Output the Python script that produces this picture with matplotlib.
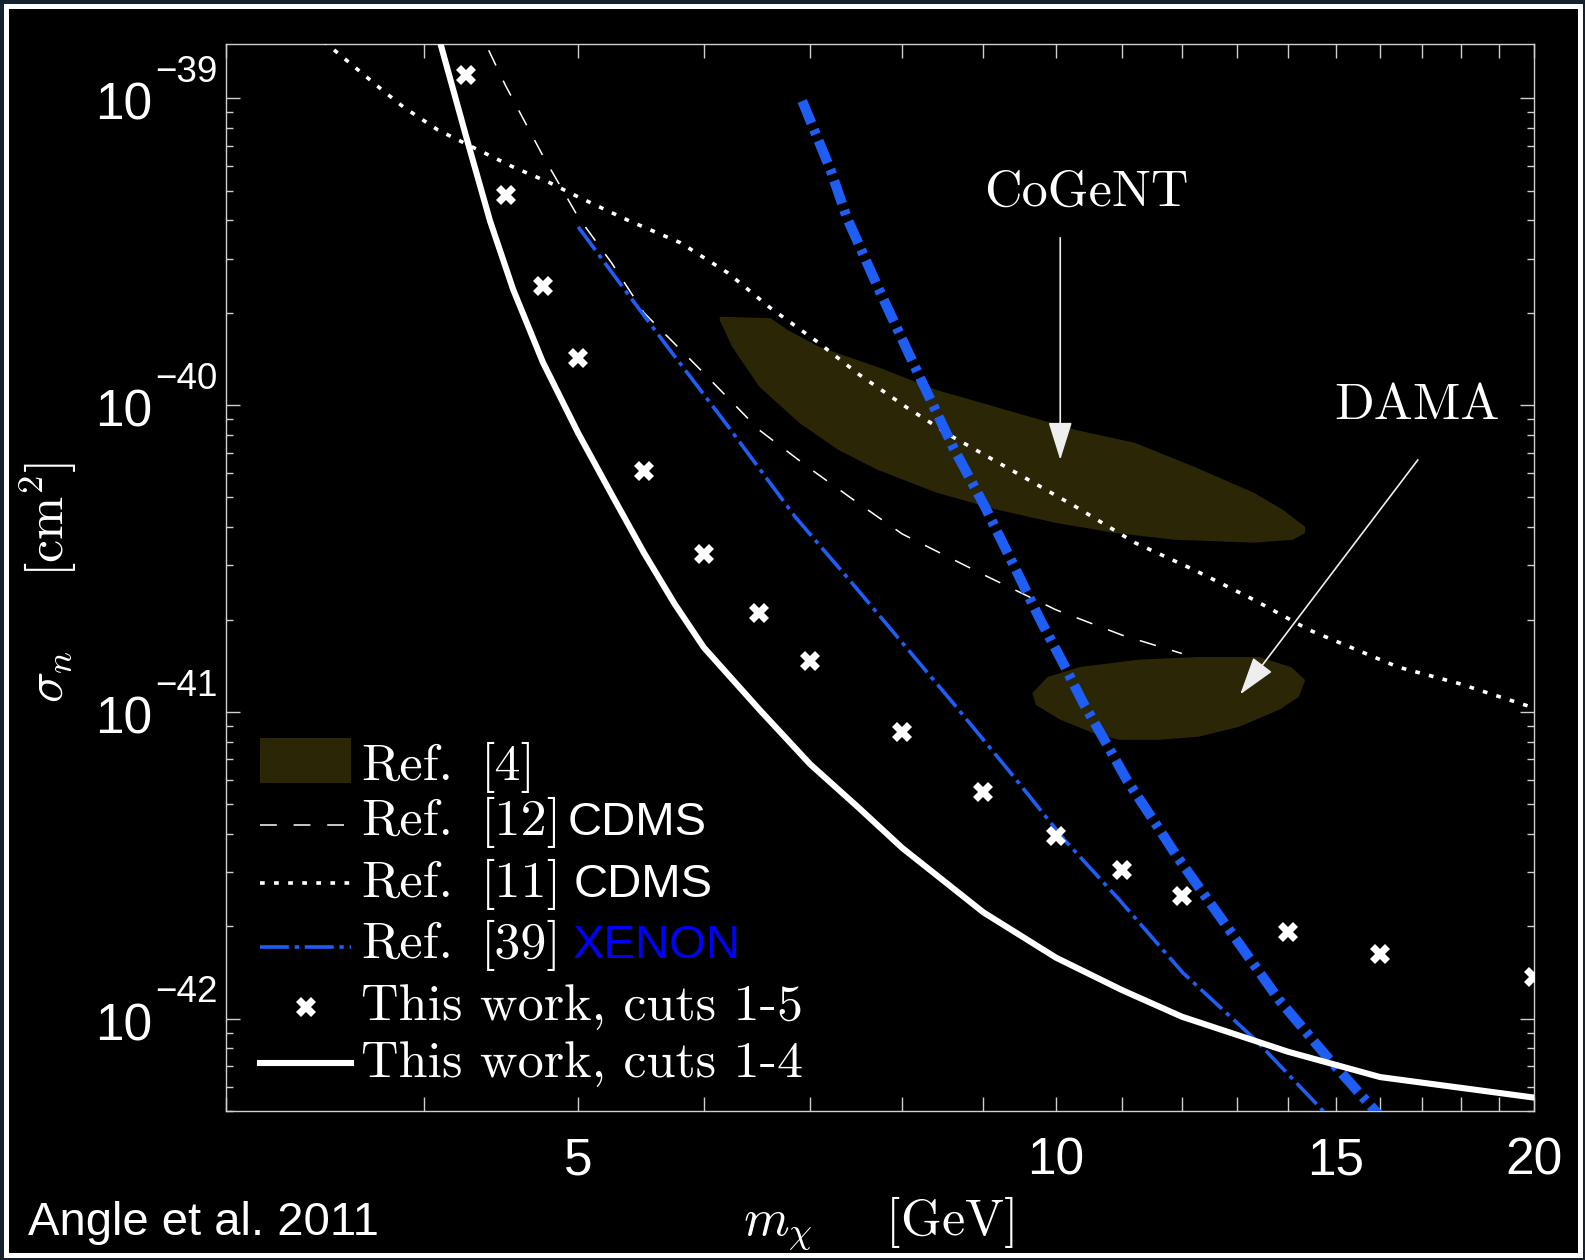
import matplotlib
matplotlib.use('Agg')
import matplotlib.pyplot as plt
import matplotlib.patches as mpatches
from matplotlib.lines import Line2D
from matplotlib.ticker import FixedLocator, FixedFormatter, NullFormatter
import numpy as np

plt.rcParams['font.family'] = 'Liberation Sans'

# This work, cuts 1-5 (crosses)
cuts15_mass = [4.25, 4.5, 4.75, 5, 5.5, 6, 6.5, 7, 8, 9, 10, 11, 12, 14, 16, 20]
cuts15_sigma = [1.19e-39, 4.85e-40, 2.45e-40, 1.42e-40, 6.1e-41, 3.26e-41, 2.1e-41, 1.47e-41,
                8.6e-42, 5.46e-42, 3.94e-42, 3.06e-42, 2.51e-42, 1.92e-42, 1.62e-42, 1.37e-42]

# This work, cuts 1-4 (solid)
cuts14_mass = [4.0, 4.1, 4.25, 4.4, 4.55, 4.75, 5.0, 5.25, 5.5, 5.75, 6.0, 6.5, 7.0, 7.5, 8.0, 9.0,
               10, 11, 12, 14, 16, 20]
cuts14_sigma = [2.3e-39, 1.47e-39, 7.5e-40, 3.98e-40, 2.38e-40, 1.38e-40, 8.1e-41, 5.1e-41, 3.3e-41,
                2.25e-41, 1.62e-41, 1.02e-41, 6.75e-42, 4.9e-42, 3.6e-42, 2.22e-42, 1.58e-42, 1.24e-42,
                1.015e-42, 7.8e-43, 6.45e-43, 5.53e-43]

# Ref. [12] CDMS (dashed)
cdms12_mass = [4.3, 4.5, 4.75, 5.0, 5.25, 5.5, 6.0, 6.5, 7.0, 7.5, 8.0, 9.0, 10.0, 11.0, 12.0]
cdms12_sigma = [1.8e-39, 1.1e-39, 6.5e-40, 4.1e-40, 2.9e-40, 2.0e-40, 1.27e-40, 8.3e-41, 6.2e-41,
                4.8e-41, 3.8e-41, 2.8e-41, 2.15e-41, 1.78e-41, 1.55e-41]

# Ref. [11] CDMS (dotted)
cdms11_mass = [3.3, 3.48, 3.75, 3.88, 4.08, 4.3, 4.55, 4.8, 5.0, 5.37, 5.8, 6.21, 6.61, 7.07, 7.52,
               8.06, 8.61, 9.44, 10.29, 11.21, 12.22, 13.32, 14.43, 16.42, 17.91, 20]
cdms11_sigma = [1.9e-39, 1.49e-39, 1.08e-39, 9.37e-40, 7.88e-40, 6.89e-40, 5.97e-40, 5.3e-40, 4.77e-40,
                4.01e-40, 3.38e-40, 2.7e-40, 2.07e-40, 1.61e-40, 1.254e-40, 9.79e-41, 7.87e-41, 6.01e-41,
                4.66e-41, 3.56e-41, 2.9e-41, 2.32e-41, 1.85e-41, 1.4e-41, 1.24e-41, 1.03e-41]

# Ref. [39] XENON (thin dash-dot)
xenon_mass = [5.0, 5.31, 5.69, 6.17, 6.85, 7.41, 8.0, 8.65, 9.38, 10.12, 10.96, 12.02, 13.35, 14.64, 15.2]
xenon_sigma = [3.81e-40, 2.5e-40, 1.55e-40, 8.95e-41, 4.32e-41, 2.69e-41, 1.68e-41, 1.04e-41, 6.25e-42,
               3.83e-42, 2.44e-42, 1.41e-42, 8.54e-43, 5.17e-43, 4.2e-43]

# XENON (thick dash-dot)
xenon2_mass = [6.92, 7.21, 7.38, 7.72, 8.22, 8.61, 9.02, 9.45, 9.77, 10.1, 10.4, 10.74, 11.08, 11.51,
               11.92, 12.89, 13.82, 14.81, 15.86, 16.3]
xenon2_sigma = [9.8e-40, 5.84e-40, 4.1e-40, 2.43e-40, 1.21e-40, 7.31e-41, 4.66e-41, 2.85e-41, 2.0e-41,
                1.445e-41, 1.07e-41, 8.0e-42, 6.0e-42, 4.45e-42, 3.37e-42, 1.91e-42, 1.15e-42, 7.52e-43,
                5.05e-43, 4.3e-43]

# CoGeNT region outline
cogent_mass = [6.14, 6.61, 6.77, 7.09, 7.72, 8.41, 9.44, 10.29, 11.21, 12.22, 13.32, 13.9, 14.35, 14.35,
               14.1, 13.32, 11.87, 10.89, 10.0, 9.18, 8.41, 7.72, 7.29, 6.89, 6.5, 6.25, 6.14]
cogent_sigma = [1.94e-40, 1.92e-40, 1.76e-40, 1.55e-40, 1.33e-40, 1.12e-40, 9.43e-41, 8.3e-41, 7.53e-41,
                6.29e-41, 5.18e-41, 4.55e-41, 4.01e-41, 3.83e-41, 3.64e-41, 3.56e-41, 3.64e-41, 3.83e-41,
                4.13e-41, 4.56e-41, 5.18e-41, 6.15e-41, 7.15e-41, 8.75e-41, 1.15e-40, 1.55e-40, 1.89e-40]

# DAMA region outline
dama_mass = [9.66, 9.88, 10.35, 11.28, 12.3, 13.42, 14.06, 14.35, 14.22, 13.82, 13.04, 12.3, 11.61,
             10.96, 10.54, 10.06, 9.71]
dama_sigma = [1.15e-41, 1.3e-41, 1.4e-41, 1.48e-41, 1.51e-41, 1.51e-41, 1.4e-41, 1.27e-41, 1.12e-41,
              1.016e-41, 8.94e-42, 8.3e-42, 8.11e-42, 8.11e-42, 8.55e-42, 9.43e-42, 1.054e-41]

x_labeled = [5, 10, 15, 20]
x_other = [v for v in range(3, 20) if v not in x_labeled]
y_exponents = [-42, -41, -40, -39]
y_major = [10.0 ** e for e in y_exponents]
y_minor = [m * 10.0 ** e for e in range(-43, -39) for m in range(2, 10)]

# legend rows: (name, ref, extra word, extra colour)
legend_rows = [('Ref.', '[4]', '', 'white'),
               ('Ref.', '[12]', 'CDMS', 'white'),
               ('Ref.', '[11]', 'CDMS', 'white'),
               ('Ref.', '[39]', 'XENON', '#0000ff'),
               ('This work, cuts 1-5', '', '', 'white'),
               ('This work, cuts 1-4', '', '', 'white')]

region_color = '#2b2606'
blue = '#1e5ef5'
serif = 'cmr10'

dashed = dict(color='white', lw=1.1, dashes=(11, 11))
dotted = dict(color='white', lw=2.6, dashes=(1.3, 2.6))
dashdot = dict(color=blue, lw=2.6, dashes=(8, 1.6, 1.2, 1.6))
crosses = dict(ls='none', marker='X', ms=14, color='white', markeredgewidth=0)
solid = dict(color='white', lw=4.4)

fig = plt.figure(figsize=(15.85, 12.6), dpi=100, facecolor='#15212e')
frame = mpatches.Rectangle((0.0035, 0.0036), 0.9934, 0.9913, transform=fig.transFigure,
                           facecolor='black', edgecolor='white', linewidth=3.6, zorder=-10)
fig.patches.append(frame)
ax = fig.add_axes([0.14259, 0.11825, 0.82524, 0.84683], zorder=1)
ax.set_facecolor('black')

ax.fill(cogent_mass, cogent_sigma, color=region_color, lw=0, zorder=1)
ax.fill(dama_mass, dama_sigma, color=region_color, lw=0, zorder=1)

ax.plot(cdms12_mass, cdms12_sigma, zorder=3, **dashed)
ax.plot(cdms11_mass, cdms11_sigma, zorder=3, **dotted)
ax.plot(xenon_mass, xenon_sigma, zorder=3, **dashdot)
ax.plot(xenon2_mass, xenon2_sigma, color=blue, lw=7.2, dashes=(2.4, 0.7, 0.5, 0.7), zorder=3)
ax.plot(cuts15_mass, cuts15_sigma, zorder=4, **crosses)
ax.plot(cuts14_mass, cuts14_sigma, zorder=4, **solid)

ax.set_xscale('log')
ax.set_yscale('log')
ax.set_xlim(3, 20)
ax.set_ylim(5.0e-43, 1.503e-39)

ax.xaxis.set_major_locator(FixedLocator(x_labeled))
ax.xaxis.set_major_formatter(FixedFormatter([str(v) for v in x_labeled]))
ax.xaxis.set_minor_locator(FixedLocator(x_other))
ax.xaxis.set_minor_formatter(NullFormatter())
ax.yaxis.set_major_locator(FixedLocator(y_major))
ax.yaxis.set_major_formatter(NullFormatter())
ax.yaxis.set_minor_locator(FixedLocator(y_minor))
ax.yaxis.set_minor_formatter(NullFormatter())

for s in ax.spines.values():
    s.set_color('#d0d0d0')
    s.set_linewidth(1.0)
ax.tick_params(which='both', direction='in', top=True, right=True, color='#d0d0d0',
               labelcolor='white', labelsize=37, width=1.0)
ax.tick_params(axis='x', which='both', length=10, pad=18)
ax.tick_params(axis='y', which='major', length=10)
ax.tick_params(axis='y', which='minor', length=5)

# y tick labels as "10" with a raised exponent
for e, v in zip(y_exponents, y_major):
    ax.annotate('10', xy=(0, v), xycoords=('axes fraction', 'data'), xytext=(-74, -21.7),
                textcoords='offset pixels', ha='right', va='baseline', fontsize=37, color='white',
                annotation_clip=False)
    ax.annotate('\u2212%d' % -e, xy=(0, v), xycoords=('axes fraction', 'data'), xytext=(-71, 16.3),
                textcoords='offset pixels', ha='left', va='baseline', fontsize=26.5, color='white',
                annotation_clip=False)

ax.set_xlabel(r'$m_\chi\quad\;\;[\mathrm{GeV}]$', fontsize=37.5, color='white', math_fontfamily='cm', va='center')
ax.xaxis.set_label_coords(0.4985, -0.106)
ax.set_ylabel(r'$\sigma_n\quad\;\;[\mathrm{cm}^2]$', fontsize=37.5, color='white', math_fontfamily='cm', va='center')
ax.yaxis.set_label_coords(-0.1357, 0.495)

ax.text(0.658, 0.861, 'CoGeNT', transform=ax.transAxes, ha='center', va='center',
        fontfamily=serif, fontsize=37.5, color='white')
ax.text(0.9106, 0.661, 'DAMA', transform=ax.transAxes, ha='center', va='center',
        fontfamily=serif, fontsize=37.5, color='white')
arrow = dict(arrowstyle='-|>,head_length=2.4,head_width=0.75', color='#eeeeee', lw=1.2,
             shrinkA=0, shrinkB=0)
ax.annotate('', xy=(10.06, 6.63e-41), xytext=(10.06, 3.51e-40), arrowprops=arrow, zorder=5)
ax.annotate('', xy=(13.06, 1.14e-41), xytext=(16.9, 6.63e-41), arrowprops=arrow, zorder=5)

# legend, laid out by hand in axes fractions
row_base = [0.3102, 0.2587, 0.2006, 0.1434, 0.0853, 0.0319]
row_mid = [0.3285, 0.268, 0.2137, 0.1537, 0.0975, 0.045]
hx0, hx1 = 0.026, 0.0956
ax.add_patch(mpatches.Rectangle((hx0, 0.3074), hx1 - hx0, 0.0422, transform=ax.transAxes,
                                facecolor=region_color, lw=0, zorder=6))
for k, style in [(1, dashed), (2, dotted), (3, dashdot), (5, solid)]:
    ax.add_line(Line2D([hx0, hx1], [row_mid[k], row_mid[k]], transform=ax.transAxes, zorder=6, **style))
ax.add_line(Line2D([(hx0 + hx1) / 2], [row_mid[4]], transform=ax.transAxes, zorder=6, **crosses))

extra_x = [0, 0.2615, 0.266, 0.2653]
for k, (name, ref, word, col) in enumerate(legend_rows):
    ax.text(0.1032, row_base[k], name, transform=ax.transAxes, fontfamily=serif, fontsize=37.5,
            color='white', va='baseline', ha='left', zorder=6)
    if ref:
        ax.text(0.1951, row_base[k], ref, transform=ax.transAxes, fontfamily=serif, fontsize=37.5,
                color='white', va='baseline', ha='left', zorder=6)
    if word:
        ax.text(extra_x[k], row_base[k], word, transform=ax.transAxes, fontsize=34,
                color=col, va='baseline', ha='left', zorder=6)

fig.text(28 / 1585, 25 / 1260, 'Angle et al. 2011', fontsize=34, color='white', ha='left', va='baseline')

fig.savefig('out.png', dpi=100, facecolor=fig.get_facecolor())
